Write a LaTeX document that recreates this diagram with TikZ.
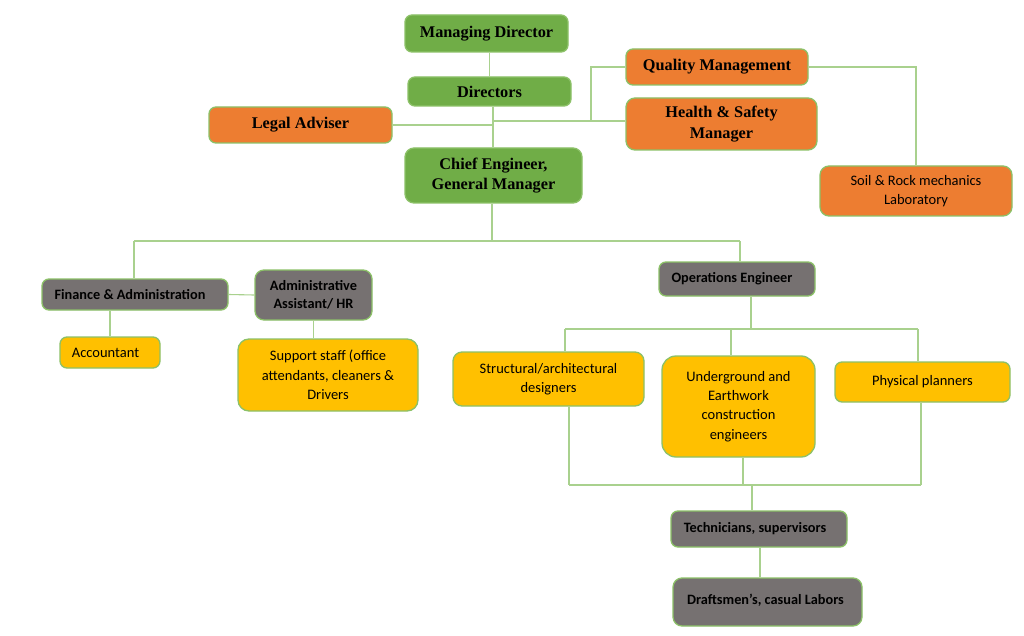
\documentclass[tikz,border=0pt]{standalone}
\usepackage{fontspec}
\setmainfont{Carlito}
\newfontfamily\camfont{Liberation Serif}
\usetikzlibrary{calc}
\definecolor{cgreen}{HTML}{70AD47}
\definecolor{corange}{HTML}{ED7D31}
\definecolor{cgray}{HTML}{767171}
\definecolor{cyellow}{HTML}{FFC000}
\definecolor{cborder}{HTML}{8CC168}
\definecolor{cline}{HTML}{A9D18E}
\tikzset{
  box/.style={draw=cborder, line width=1.3pt, rounded corners=7pt, align=center, inner sep=2pt, text=black},
  topbox/.style={box, font=\camfont\bfseries\fontsize{16.3}{20.5}\selectfont},
  lowbox/.style={box, font=\fontsize{14.5}{19.3}\selectfont},
  lowbold/.style={box, font=\bfseries\fontsize{14.3}{17.5}\selectfont},
  conn/.style={draw=cline, line width=1.1pt},
}
\begin{document}
\begin{tikzpicture}[x=1pt,y=-1pt]
\useasboundingbox[fill=white] (0,0) rectangle (1024,636);
% top level
\node[topbox, fill=cgreen, minimum width=163, minimum height=37] (md) at (486.5,33.5) {Managing Director};
\node[topbox, fill=cgreen, minimum width=163, minimum height=29] (dir) at (489.5,91.5) {Directors};
\node[topbox, fill=corange, minimum width=183, minimum height=36] (legal) at (300.5,125) {Legal Adviser};
\node[topbox, fill=cgreen, minimum width=177, minimum height=55, rounded corners=9pt] (chief) at (493.5,175.5) {Chief Engineer,\\General Manager};
\node[topbox, fill=corange, minimum width=182, minimum height=36] (qm) at (717,67) {Quality Management};
\node[topbox, fill=corange, minimum width=191, minimum height=52, rounded corners=9pt] (hs) at (721.5,124) {Health \& Safety\\Manager};
\node[lowbox, fill=corange, minimum width=192, minimum height=50, rounded corners=9pt] (soil) at (916,191) {Soil \& Rock mechanics\\Laboratory};
% left branch
\node[lowbold, fill=cgray, minimum width=186, minimum height=31] (fin) at (135,294.5) {Finance \& Administration\hspace*{10pt}};
\node[lowbold, fill=cgray, minimum width=117, minimum height=50, rounded corners=9pt] (adm) at (313.5,295) {Administrative\\Assistant/ HR};
\node[lowbox, fill=cyellow, minimum width=100, minimum height=31] (acc) at (110,352.5) {Accountant\hspace*{9pt}};
\node[lowbox, fill=cyellow, minimum width=180, minimum height=72, rounded corners=11pt] (sup) at (328,375) {Support staff (office\\attendants, cleaners \&\\Drivers};
% right branch
\node[lowbold, fill=cgray, minimum width=156, minimum height=34] (ops) at (737,279) {Operations Engineer\hspace*{10pt}};
\node[lowbox, fill=cyellow, minimum width=191, minimum height=54, rounded corners=9pt] (str) at (548.5,379) {Structural/architectural\\designers};
\node[lowbox, fill=cyellow, minimum width=153, minimum height=101, rounded corners=14pt] (und) at (738.5,406.5) {Underground and\\Earthwork\\construction\\engineers};
\node[lowbox, fill=cyellow, minimum width=175, minimum height=40] (phy) at (922.5,382) {Physical planners};
\node[lowbold, fill=cgray, minimum width=176, minimum height=36] (tech) at (759,529) {Technicians, supervisors\hspace*{8pt}};
\node[lowbold, fill=cgray, minimum width=189, minimum height=48, rounded corners=9pt] (dra) at (767.5,602) {\raisebox{5pt}{Draftsmen’s, casual Labors}\hspace*{4pt}};
% junction coordinates
\coordinate (jHS) at (493,121);
\coordinate (jQ) at (591,121);
\coordinate (jC) at (492,241);
\coordinate (jL) at (134,241);
\coordinate (jR) at (740,241);
\coordinate (jO) at (751,329);
\coordinate (oL) at (565,329);
\coordinate (oM) at (731,329);
\coordinate (oR) at (918,329);
\coordinate (bL) at (569,485);
\coordinate (bM) at (743,485);
\coordinate (bR) at (921,485);
\coordinate (bT) at (752,485);
\coordinate (tD) at (760,560);
% connectors
\draw[conn] (md.south -| dir.north) -- (dir.north);
\draw[conn] (dir.south -| jHS) -- (chief.north -| jHS);
\draw[conn] (legal.east) -- (legal.east -| jHS);
\draw[conn] (jHS) -- (jHS -| hs.west);
\draw[conn] (jQ) -- (jQ |- qm.west) -- (qm.west);
\draw[conn] (qm.east) -- (qm.east -| soil.north) -- (soil.north);
\draw[conn] (chief.south -| jC) -- (jC);
\draw[conn] (jL) -- (jR);
\draw[conn] (jL) -- (jL |- fin.north);
\draw[conn] (jR) -- (jR |- ops.north);
\draw[conn] (fin.east) -- (adm.west);
\draw[conn] (fin.south -| acc.north) -- (acc.north);
\draw[conn] (adm.south) -- (adm.south |- sup.north);
\draw[conn] (ops.south -| jO) -- (jO);
\draw[conn] (oL) -- (oR);
\draw[conn] (oL) -- (oL |- str.north);
\draw[conn] (oM) -- (oM |- und.north);
\draw[conn] (oR) -- (oR |- phy.north);
\draw[conn] (bL |- str.south) -- (bL);
\draw[conn] (bM |- und.south) -- (bM);
\draw[conn] (bR |- phy.south) -- (bR);
\draw[conn] (bL) -- (bR);
\draw[conn] (bT) -- (bT |- tech.north);
\draw[conn] (tD |- tech.south) -- (tD |- dra.north);
\end{tikzpicture}
\end{document}
